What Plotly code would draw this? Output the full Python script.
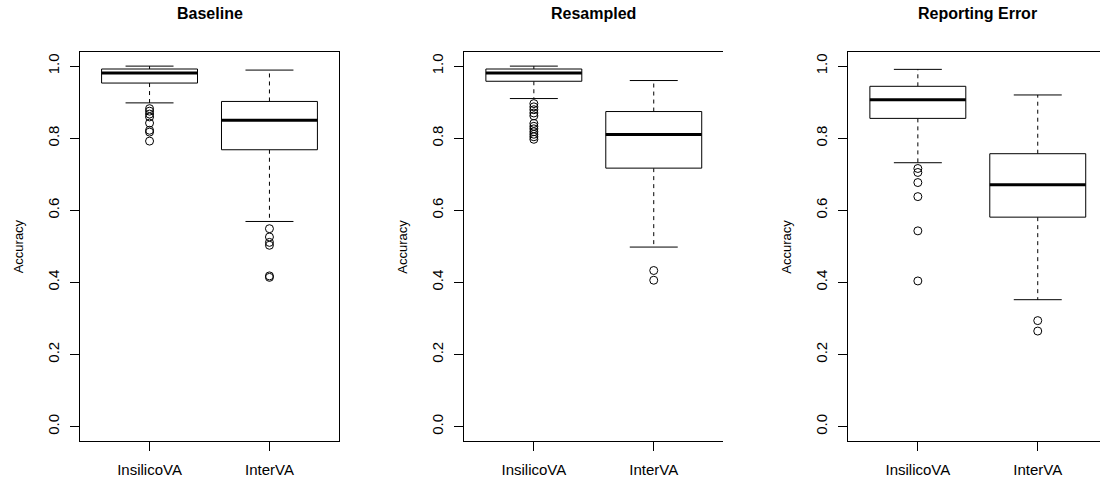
import plotly.graph_objects as go

# Accuracy summaries for the two methods under three scenarios
panels = ["Baseline", "Resampled", "Reporting Error"]
methods = ["InsilicoVA", "InterVA"]

# per-scenario box statistics: [InsilicoVA, InterVA]
lower_whisker = [[0.898, 0.569], [0.910, 0.498], [0.732, 0.352]]
q1 = [[0.953, 0.768], [0.958, 0.717], [0.855, 0.581]]
median = [[0.981, 0.850], [0.981, 0.810], [0.907, 0.671]]
q3 = [[0.992, 0.902], [0.992, 0.874], [0.944, 0.757]]
upper_whisker = [[1.000, 0.989], [1.000, 0.960], [0.991, 0.920]]

outliers_baseline = [[0.882, 0.875, 0.867, 0.859, 0.842, 0.822, 0.817, 0.792],
                     [0.549, 0.526, 0.511, 0.503, 0.418, 0.414]]
outliers_resampled = [[0.896, 0.887, 0.879, 0.870, 0.862, 0.841, 0.833, 0.826,
                       0.818, 0.811, 0.804, 0.797],
                      [0.433, 0.406]]
outliers_reporting = [[0.716, 0.705, 0.677, 0.638, 0.543, 0.404],
                      [0.294, 0.265]]
outliers = [outliers_baseline, outliers_resampled, outliers_reporting]

y_ticks = [0.0, 0.2, 0.4, 0.6, 0.8, 1.0]
y_tick_labels = ["0.0", "0.2", "0.4", "0.6", "0.8", "1.0"]

# ---- page geometry (pixels) ----
W, H = 1100, 482
plot_left = [80.0, 464.3, 848.3]
plot_width = 259.0
plot_top, plot_bottom = 51.7, 441.0
x_lo, x_hi = 0.42, 2.58
px_per_unit = plot_width / (x_hi - x_lo)
BOX_HALF = 0.4
CAP_HALF = 0.2
FONT = "Liberation Sans, Arial, sans-serif"

fig = go.Figure()
annotations = []

for p, title in enumerate(panels):
    sfx = "" if p == 0 else str(p + 1)
    xa, ya = "x" + sfx, "y" + sfx
    left = plot_left[p]
    right = min(left + plot_width, W)
    x_end = x_lo + (right - left) / px_per_unit

    for m in range(len(methods)):
        c = m + 1
        lw, a, med, b, uw = (lower_whisker[p][m], q1[p][m], median[p][m],
                             q3[p][m], upper_whisker[p][m])
        # whiskers (dashed)
        fig.add_trace(go.Scatter(
            x=[c, c, None, c, c], y=[b, uw, None, a, lw], mode="lines",
            line=dict(color="black", width=1, dash="4px,4px"),
            xaxis=xa, yaxis=ya, showlegend=False, hoverinfo="skip"))
        # whisker caps
        fig.add_trace(go.Scatter(
            x=[c - CAP_HALF, c + CAP_HALF, None, c - CAP_HALF, c + CAP_HALF],
            y=[uw, uw, None, lw, lw], mode="lines",
            line=dict(color="black", width=1),
            xaxis=xa, yaxis=ya, showlegend=False, hoverinfo="skip"))
        # box
        fig.add_trace(go.Scatter(
            x=[c - BOX_HALF, c + BOX_HALF, c + BOX_HALF, c - BOX_HALF, c - BOX_HALF],
            y=[a, a, b, b, a], mode="lines", fill="toself", fillcolor="white",
            line=dict(color="black", width=1),
            xaxis=xa, yaxis=ya, showlegend=False, hoverinfo="skip"))
        # median
        fig.add_trace(go.Scatter(
            x=[c - BOX_HALF, c + BOX_HALF], y=[med, med], mode="lines",
            line=dict(color="black", width=3),
            xaxis=xa, yaxis=ya, showlegend=False, hoverinfo="skip"))
        # outliers
        pts = outliers[p][m]
        fig.add_trace(go.Scatter(
            x=[c] * len(pts), y=pts, mode="markers",
            marker=dict(symbol="circle-open", size=8, color="black",
                        line=dict(width=1, color="black")),
            xaxis=xa, yaxis=ya, showlegend=False, hoverinfo="skip"))

    dom_x = [left / W, right / W]
    dom_y = [1 - plot_bottom / H, 1 - plot_top / H]
    fig.layout["xaxis" + sfx] = dict(
        domain=dom_x, range=[x_lo, x_end], anchor=ya,
        tickvals=[1, 2], ticktext=methods, ticks="outside", ticklen=9,
        tickcolor="black", tickwidth=1, showgrid=False, zeroline=False,
        showline=True, mirror=True, linecolor="black", linewidth=1,
        ticklabelstandoff=6,
        tickfont=dict(family=FONT, size=15, color="black"), fixedrange=True)
    fig.layout["yaxis" + sfx] = dict(
        domain=dom_y, range=[-0.04, 1.04], anchor=xa,
        tickvals=y_ticks, ticktext=y_tick_labels, tickangle=-90,
        ticks="outside", ticklen=9, tickcolor="black", tickwidth=1,
        showgrid=False, zeroline=False, showline=True,
        mirror=(right - left) >= plot_width, linecolor="black", linewidth=1,
        ticklabelstandoff=5,
        tickfont=dict(family=FONT, size=15, color="black"), fixedrange=True)

    # panel title, centred on the full plot region
    annotations.append(dict(
        text="<b>" + title + "</b>", xref="paper", yref="paper",
        x=(left + plot_width / 2) / W, y=1 - 13 / H, xanchor="center",
        yanchor="middle", showarrow=False,
        font=dict(family=FONT, size=16, color="black")))
    # y-axis label
    annotations.append(dict(
        text="Accuracy", xref="paper", yref="paper",
        x=(left - 62) / W, y=1 - (plot_top + plot_bottom) / 2 / H,
        xanchor="center", yanchor="middle", textangle=-90, showarrow=False,
        font=dict(family=FONT, size=13, color="black")))

fig.update_layout(
    width=W, height=H, margin=dict(l=0, r=0, t=0, b=0),
    plot_bgcolor="white", paper_bgcolor="white",
    annotations=annotations, showlegend=False)

fig.write_html("out.html", config={"displayModeBar": False})
